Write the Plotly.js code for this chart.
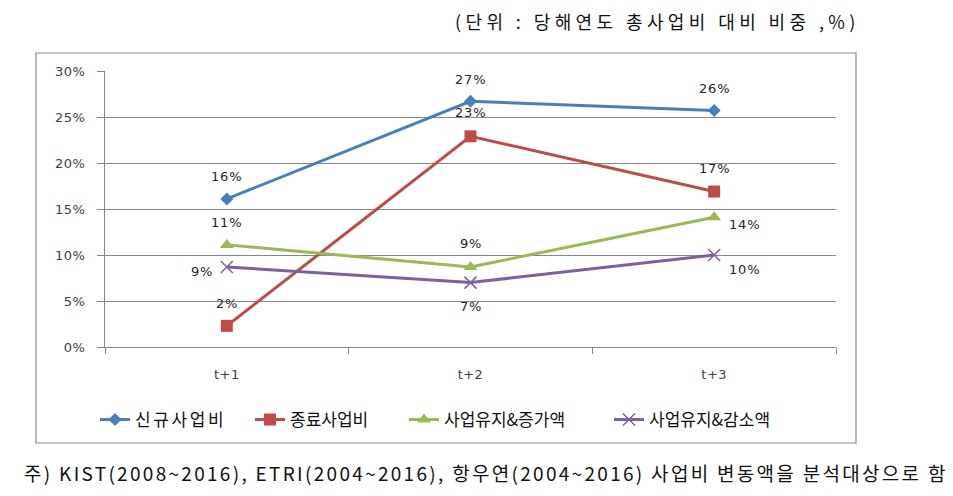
<!DOCTYPE html>
<html>
<head>
<meta charset="utf-8">
<script src="https://cdn.plot.ly/plotly-3.0.1.min.js"></script>
<style>
html,body{margin:0;padding:0;background:#fff;}
#chart{width:953px;height:496px;}
.legendtext{letter-spacing:2.6px;}
.xtick text,.ytick text{letter-spacing:0.5px;}
</style>
</head>
<body>
<div id="chart"></div>
<script>
const categories = ['t+1', 't+2', 't+3'];
const seriesNames = ['신규사업비', '종료사업비', '사업유지&증가액', '사업유지&감소액'];
const newBudget = [16.1, 26.7, 25.7];
const endedBudget = [2.3, 22.9, 16.9];
const keptIncrease = [11.1, 8.7, 14.1];
const keptDecrease = [8.7, 7.0, 10.0];
const yTickVals = [0, 5, 10, 15, 20, 25, 30];
const yTickText = ['0%', '5%', '10%', '15%', '20%', '25%', '30%'];
const unitNote = '(단위 : 당해연도 총사업비 대비 비중 ,%)';
const sourceNote = '주) KIST(2008~2016), ETRI(2004~2016), 항우연(2004~2016) 사업비 변동액을 분석대상으로 함';

const seriesValues = [newBudget, endedBudget, keptIncrease, keptDecrease];
const colors = ['#4A7EBB', '#BE4B48', '#98B954', '#7D60A0'];
const symbols = ['diamond', 'square', 'triangle-up', 'x-thin-open'];
const sizes = [10, 12, 12, 12];
const legendIds = ['legend', 'legend2', 'legend3', 'legend4'];
const legendLeft = [100, 255, 409, 614];
// label placement per series / point: [xshift, yshift]
const labelShift = [
  [[0, 22], [0, 22], [0, 22]],
  [[0, 22], [0, 24], [0, 23]],
  [[0, 22], [0, 23], [30, -7]],
  [[-25, -5], [0, -24], [30, -14]]
];

const traces = seriesValues.map((vals, i) => ({
  type: 'scatter',
  mode: 'lines+markers',
  name: seriesNames[i],
  legend: legendIds[i],
  x: categories,
  y: vals,
  line: {color: colors[i], width: 3},
  marker: {symbol: symbols[i], size: sizes[i], color: colors[i],
           line: {color: colors[i], width: i === 3 ? 1.5 : 0}},
  hoverinfo: 'skip'
}));

const annotations = [];
seriesValues.forEach((vals, i) => {
  vals.forEach((v, j) => {
    annotations.push({
      x: categories[j], y: v, xref: 'x', yref: 'y',
      text: '<span style="letter-spacing:0.8px">' + Math.round(v) + '%</span>', showarrow: false,
      xshift: labelShift[i][j][0], yshift: labelShift[i][j][1],
      font: {family: 'DejaVu Sans, sans-serif', size: 13, color: '#262626'}
    });
  });
});

const W = 731, H = 276;
annotations.push({
  xref: 'paper', yref: 'paper', x: (862 - 105) / W, y: (347 - 21) / H,
  xanchor: 'right', yanchor: 'middle', showarrow: false,
  text: '<span style="letter-spacing:4.4px">' + unitNote + '</span>',
  font: {family: 'Noto Sans CJK KR, sans-serif', size: 18, color: '#111'}
});
annotations.push({
  xref: 'paper', yref: 'paper', x: (22 - 105) / W, y: (347 - 472) / H,
  xanchor: 'left', yanchor: 'middle', showarrow: false,
  text: '<span style="letter-spacing:2.3px">' + sourceNote + '</span>',
  font: {family: 'Noto Sans CJK KR, sans-serif', size: 19, color: '#111'}
});

const layout = {
  width: 953, height: 496,
  margin: {l: 105, r: 117, t: 71, b: 149, pad: 0},
  paper_bgcolor: '#fff', plot_bgcolor: '#fff',
  showlegend: true,
  xaxis: {
    type: 'category', range: [-0.5, 2.5],
    showline: true, linecolor: '#868686', linewidth: 1,
    showgrid: false, zeroline: false,
    ticks: 'outside', tickson: 'boundaries', ticklen: 6, tickcolor: '#868686',
    ticklabelstandoff: 15,
    tickfont: {family: 'DejaVu Sans, sans-serif', size: 13, color: '#404040'},
    fixedrange: true
  },
  yaxis: {
    range: [0, 30], tickvals: yTickVals, ticktext: yTickText,
    showline: true, linecolor: '#868686', linewidth: 1,
    showgrid: true, gridcolor: '#868686', gridwidth: 1, zeroline: false,
    ticks: 'outside', ticklen: 7, tickcolor: '#868686',
    ticklabelstandoff: 9,
    tickfont: {family: 'DejaVu Sans, sans-serif', size: 13, color: '#404040'},
    fixedrange: true
  },
  shapes: [{
    type: 'rect', xref: 'paper', yref: 'paper',
    x0: (36 - 105) / W, x1: (856 - 105) / W,
    y0: (347 - 443) / H, y1: (347 - 53) / H,
    line: {color: '#8a8a8a', width: 1.2}, fillcolor: 'rgba(0,0,0,0)', layer: 'below'
  }],
  annotations: annotations
};

legendIds.forEach((id, i) => {
  layout[id] = {
    orientation: 'h', x: (legendLeft[i] - 5 - 105) / W, xanchor: 'left',
    y: (347 - 420) / H, yanchor: 'middle', bgcolor: 'rgba(0,0,0,0)',
    font: {family: 'Noto Sans CJK KR, sans-serif', size: 17, color: '#111'},
    itemclick: false, itemdoubleclick: false
  };
});

Plotly.newPlot('chart', traces, layout, {displayModeBar: false, staticPlot: true});
</script>
</body>
</html>
